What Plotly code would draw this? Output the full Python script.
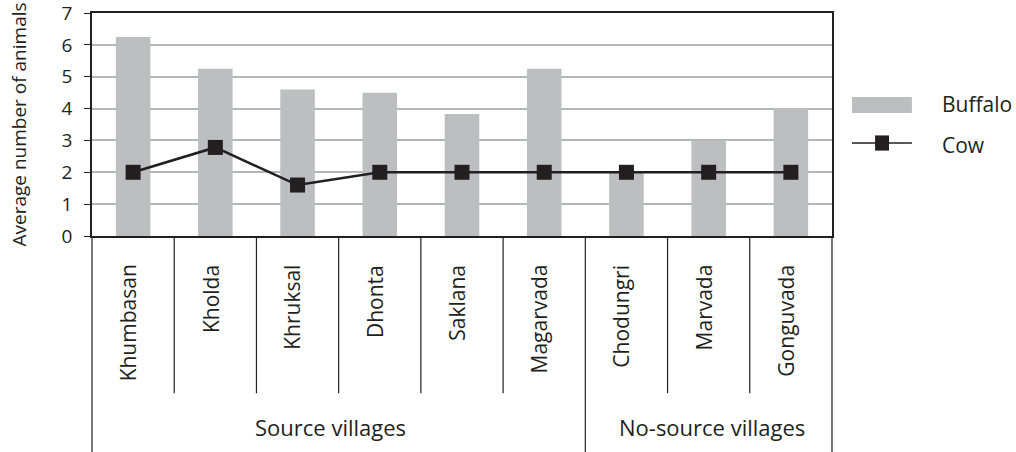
import plotly.graph_objects as go

# ---- data ----
villages = ["Khumbasan", "Kholda", "Khruksal", "Dhonta", "Saklana", "Magarvada",
            "Chodungri", "Marvada", "Gonguvada"]
groups = ["Source villages"] * 6 + ["No-source villages"] * 3
buffalo = [6.25, 5.25, 4.6, 4.5, 3.83, 5.25, 2.0, 3.0, 4.0]
cow = [2.0, 2.78, 1.6, 2.0, 2.0, 2.0, 2.0, 2.0, 2.0]
y_ticks = [0, 1, 2, 3, 4, 5, 6, 7]

INK = "#231f20"
BAR = "#bcbec0"
GRID = "#b5b6b8"
FONT = "Open Sans"

fig = go.Figure()
fig.add_trace(go.Bar(x=villages, y=buffalo, name="Buffalo", width=0.42,
                     marker=dict(color=BAR, line=dict(width=0)), showlegend=False))
fig.add_trace(go.Scatter(x=villages, y=cow, name="Cow", mode="lines+markers",
                         line=dict(color=INK, width=2.5),
                         marker=dict(symbol="square", size=15, color=INK),
                         showlegend=False))

n = len(villages)
shapes = []
annotations = []

# category label annotations
for i, v in enumerate(villages):
    annotations.append(dict(x=v, xref="x", y=-0.12, yref="paper", text=v,
                            textangle=-90, showarrow=False, xanchor="center",
                            yanchor="top", xshift=-5,
                            font=dict(family=FONT, size=21, color=INK)))
# dividers between villages (inner) and between groups (full height)
for i in range(n + 1):
    xp = i / n
    full = (i == 0 or i == n or groups[i - 1] != groups[i])
    shapes.append(dict(type="line", xref="paper", yref="paper", x0=xp, x1=xp,
                       y0=0, y1=-1.05 if full else -0.705,
                       line=dict(color=INK, width=1.2)))

# group labels
start = 0
for i in range(1, n + 1):
    if i == n or groups[i] != groups[start]:
        annotations.append(dict(x=(start + i) / 2 / n, xref="paper", y=-0.857,
                                yref="paper", text=groups[start], showarrow=False,
                                xanchor="center", yanchor="middle",
                                xshift=-8 if start == 0 else 3,
                                font=dict(family=FONT, size=22, color=INK)))
        start = i

# custom legend
shapes.append(dict(type="rect", xref="paper", yref="paper", x0=1.027, x1=1.108,
                   y0=0.552, y1=0.623, fillcolor=BAR, line=dict(width=0)))
shapes.append(dict(type="line", xref="paper", yref="paper", x0=1.027, x1=1.108,
                   y0=0.417, y1=0.417, line=dict(color=INK, width=1.5)))
shapes.append(dict(type="rect", xref="paper", yref="paper", x0=1.0582, x1=1.0770,
                   y0=0.383, y1=0.451, fillcolor=INK, line=dict(width=0)))
annotations.append(dict(x=1.146, xref="paper", y=0.59, yref="paper", text="Buffalo",
                        showarrow=False, xanchor="left", yanchor="middle",
                        font=dict(family=FONT, size=21, color=INK)))
annotations.append(dict(x=1.146, xref="paper", y=0.41, yref="paper", text="Cow",
                        showarrow=False, xanchor="left", yanchor="middle",
                        font=dict(family=FONT, size=21, color=INK)))

fig.update_layout(
    width=1016, height=452,
    margin=dict(l=92, r=184, t=13, b=216, autoexpand=False),
    plot_bgcolor="white", paper_bgcolor="white",
    font=dict(family=FONT, color=INK),
    shapes=shapes, annotations=annotations,
    xaxis=dict(range=[-0.5, n - 0.5], showticklabels=False, ticks="",
               showgrid=False, showline=True, linecolor=INK, linewidth=1.5,
               mirror=True, zeroline=False, automargin=False),
    yaxis=dict(range=[0, 7.0001], tickvals=y_ticks, ticks="outside", ticklen=6,
               tickcolor=INK, tickwidth=1.2,
               tickfont=dict(family=FONT, size=19, color=INK),
               ticklabelstandoff=8, ticklabeloverflow="allow", automargin=False,
               showgrid=True, gridcolor=GRID, gridwidth=1.5,
               showline=True, linecolor=INK, linewidth=1.5, mirror=True,
               zeroline=False,
               title=dict(text="Average number of animals", standoff=30,
                          font=dict(family=FONT, size=19, color=INK))),
    bargap=0.58,
)

fig.write_html("out.html", config={"displayModeBar": False},
               post_script="document.body.style.margin='0';document.body.style.padding='0';")
